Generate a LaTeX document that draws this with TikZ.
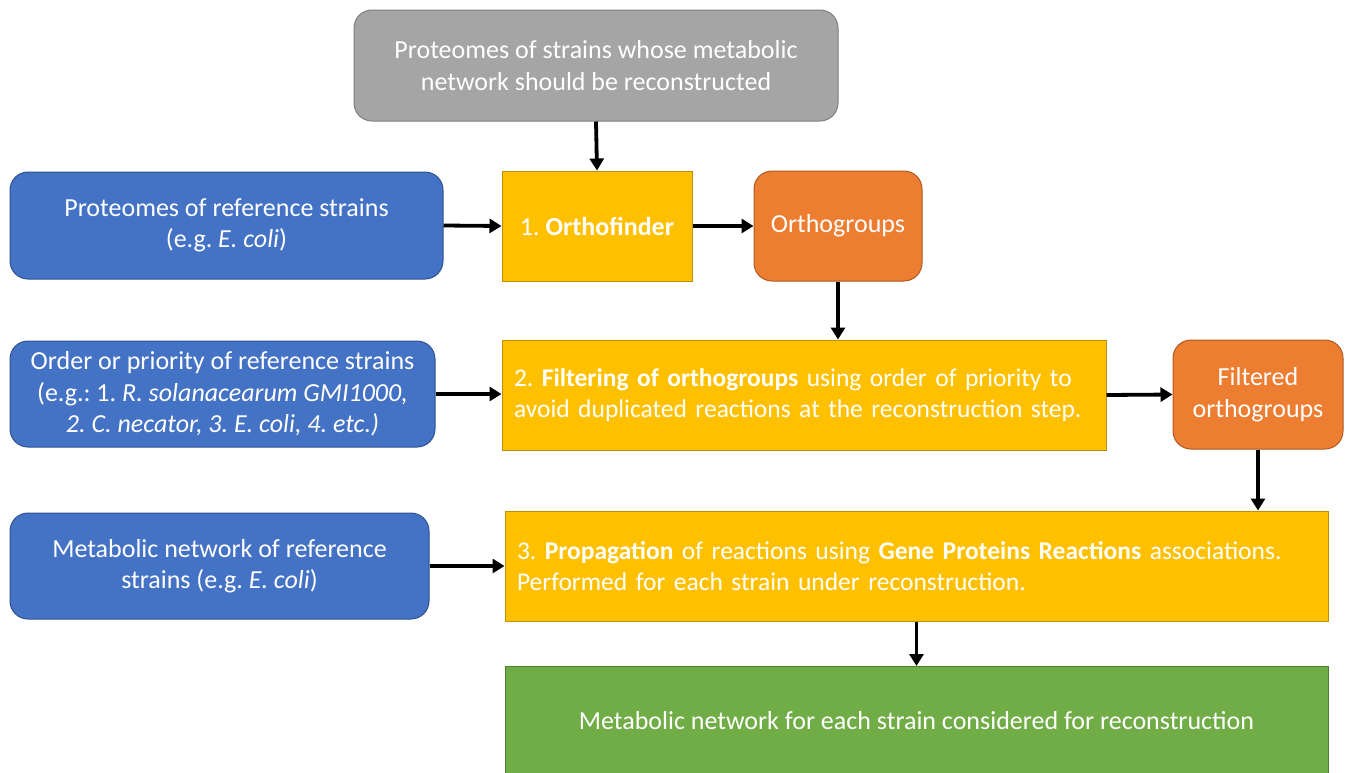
\documentclass[tikz,border=0pt]{standalone}
\usepackage{fontspec}
\setmainfont{Carlito}
\usetikzlibrary{arrows.meta}
\definecolor{cgray}{HTML}{A5A5A5}
\definecolor{cgrayb}{HTML}{7F7F7F}
\definecolor{cblue}{HTML}{4472C4}
\definecolor{cblueb}{HTML}{2F528F}
\definecolor{cyel}{HTML}{FFC000}
\definecolor{cyelb}{HTML}{BF9000}
\definecolor{corg}{HTML}{ED7D31}
\definecolor{corgb}{HTML}{AE5A21}
\definecolor{cgreen}{HTML}{70AD47}
\definecolor{cgreenb}{HTML}{507E32}
\tikzset{
  box/.style={draw, line width=1pt, text=white, align=center, inner sep=0pt,
    font=\fontsize{26}{31.5}\selectfont\frenchspacing},
  rbox/.style={box, rounded corners=18pt},
  graybox/.style={rbox, fill=cgray, draw=cgrayb},
  bluebox/.style={rbox, fill=cblue, draw=cblueb},
  orgbox/.style={rbox, fill=corg, draw=corgb},
  yelbox/.style={box, fill=cyel, draw=cyelb},
  arr/.style={line width=3.8pt, -{Triangle[length=12pt,width=14pt]}},
}
\begin{document}
\begin{tikzpicture}[x=1pt,y=-1pt]
\useasboundingbox (0,0) rectangle (1350,772);
\fill[white] (0,0) rectangle (1350,772);
\node[graybox, minimum width=484, minimum height=111] (g) at (596,65.5)
  {Proteomes of strains whose metabolic\\network should be reconstructed};
\node[yelbox, minimum width=190, minimum height=110] (y1) at (597,226)
  {1. \textbf{Orthofinder}};
\node[orgbox, minimum width=168, minimum height=110] (o1) at (838,226)
  {Orthogroups};
\node[bluebox, minimum width=433, minimum height=107] (b1) at (226.5,225.5)
  {Proteomes of reference strains\\(e.g. \textit{E. coli})};
\node[bluebox, minimum width=425, minimum height=106] (b2) at (222.5,394)
  {Order or priority of reference strains\\(e.g.: 1. \textit{R. solanacearum GMI1000,}\\\textit{2. C. necator, 3. E. coli, 4. etc.)}};
\node[yelbox, text width=580, inner xsep=12pt, minimum height=110, align=left,
  font=\fontsize{25.5}{31.5}\selectfont\frenchspacing] (y2) at (804,395)
  {2. \textbf{Filtering of orthogroups} using order of priority to\\avoid duplicated reactions at the reconstruction step.};
\node[orgbox, minimum width=170, minimum height=109] (o2) at (1258,394.5)
  {Filtered\\orthogroups};
\node[bluebox, minimum width=419, minimum height=106] (b3) at (219.5,566)
  {Metabolic network of reference\\strains (e.g. \textit{E. coli})};
\node[yelbox, text width=799, inner xsep=12pt, minimum height=110, align=left,
  font=\fontsize{25.5}{31.5}\selectfont\frenchspacing] (y3) at (916.5,566)
  {3. \textbf{Propagation} of reactions using \textbf{Gene Proteins Reactions} associations.\\Performed for each strain under reconstruction.};
\draw[line width=1pt, fill=cgreen, draw=cgreenb] (505,666) rectangle (1328,800);
\coordinate (gt) at (916.5,666);
\node[text=white, font=\fontsize{26}{31.5}\selectfont] (gl) at (916.5,721)
  {Metabolic network for each strain considered for reconstruction};
\draw[arr] (g.south) -- (y1.north);
\draw[arr] (b1.east) -- (y1.west);
\draw[arr] (y1.east) -- (o1.west);
\draw[arr] (o1.south) -- (o1.south |- y2.north);
\draw[arr] (b2.east) -- (b2.east -| y2.west);
\draw[arr] (y2.east) -- (o2.west);
\draw[arr] (o2.south) -- (o2.south |- y3.north);
\draw[arr] (b3.east) -- (y3.west);
\draw[arr] (y3.south) -- (gt);
\end{tikzpicture}
\end{document}
